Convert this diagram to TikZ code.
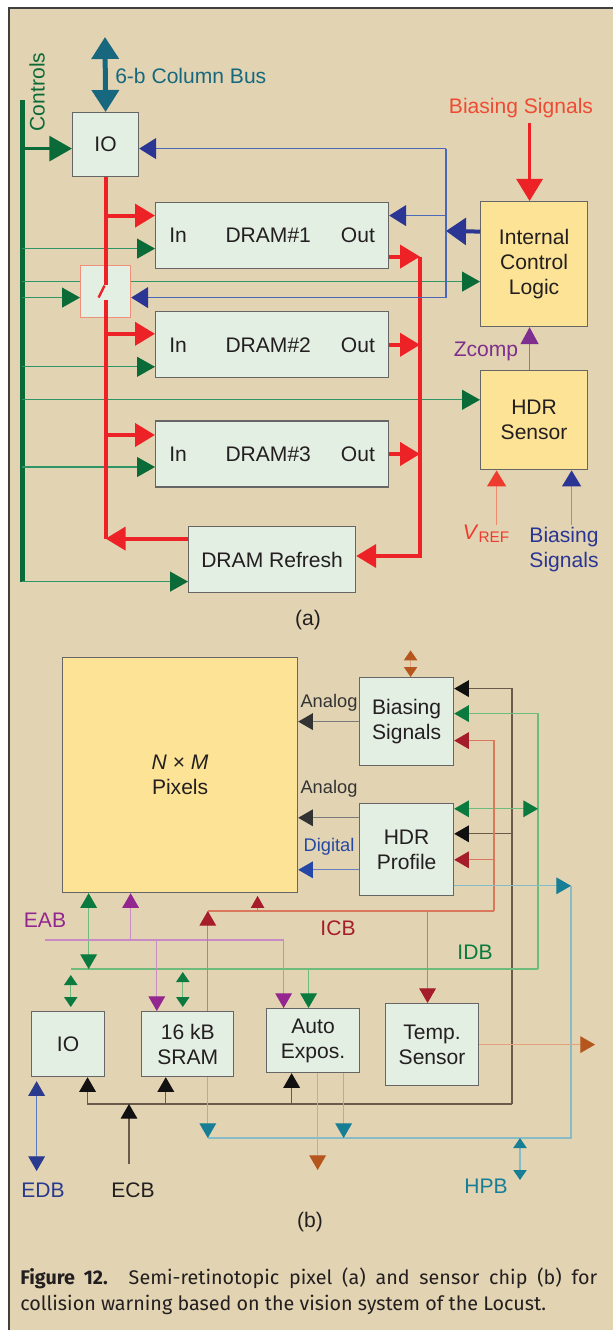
\documentclass[tikz,border=0pt]{standalone}
\usepackage{fontspec}
\setmainfont{Liberation Sans}
\newfontfamily\capfont{Fira Sans}
\usetikzlibrary{arrows.meta, positioning}

\definecolor{bgtan}{HTML}{E2D4B2}
\definecolor{mint}{HTML}{E4EFE4}
\definecolor{ylw}{HTML}{FDE395}
\definecolor{ink}{HTML}{231F20}
\definecolor{bred}{HTML}{EC2227}
\definecolor{swred}{HTML}{F0907A}
\definecolor{dgreen}{HTML}{0B6B38}
\definecolor{mgreen}{HTML}{2F9466}
\definecolor{dblue}{HTML}{2B3593}
\definecolor{mblue}{HTML}{4A67B8}
\definecolor{cteal}{HTML}{17687E}
\definecolor{bsred}{HTML}{EE4B34}
\definecolor{zpurp}{HTML}{7E2E8E}
\definecolor{zpurpl}{HTML}{A66BAE}
\definecolor{vred}{HTML}{EE3B2F}
\definecolor{vredl}{HTML}{F08A6E}
\definecolor{eab}{HTML}{94268F}
\definecolor{eabl}{HTML}{C98BC5}
\definecolor{icb}{HTML}{A51D2A}
\definecolor{icbl}{HTML}{D9785C}
\definecolor{idb}{HTML}{0B7A3E}
\definecolor{idbl}{HTML}{6DBB7D}
\definecolor{hpb}{HTML}{177E96}
\definecolor{hpbl}{HTML}{86BCC6}
\definecolor{ecb}{HTML}{111111}
\definecolor{ecbl}{HTML}{6B5A4A}
\definecolor{org}{HTML}{B5561E}
\definecolor{orgl}{HTML}{E3A27E}
\definecolor{edb}{HTML}{2A3A8E}
\definecolor{edbl}{HTML}{5A79BE}
\definecolor{anl}{HTML}{333333}
\definecolor{anll}{HTML}{7A7A7A}
\definecolor{dig}{HTML}{2547A6}

\begin{document}
\begin{tikzpicture}[
  x=0.75pt, y=-0.75pt,
  font=\fontsize{15.8}{18.75}\selectfont, text=ink,
  box/.style={rectangle, draw=black!60, fill=mint, line width=0.9pt, anchor=north west, inner sep=0pt, align=center},
  core/.style={box, fill=ylw},
  lbl/.style={inner sep=0pt, align=center},
  small/.style={lbl, font=\fontsize{13.7}{16}\selectfont},
  bus/.style={draw=#1, line width=0.85pt},
  arb/.style={-{Triangle[length=11pt,width=12.5pt,color=#1]}},
  dbb/.style={{Triangle[length=11pt,width=12.5pt,color=#1]}-{Triangle[length=11pt,width=12.5pt,color=#1]}},
  dbs/.style={{Triangle[length=7.5pt,width=10pt,color=#1]}-{Triangle[length=7.5pt,width=10pt,color=#1]}},
  rbus/.style={draw=bred, line width=3pt},
  rarr/.style={rbus, -{Triangle[length=15pt,width=17.25pt]}},
  garr/.style={draw=mgreen, line width=0.9pt, -{Triangle[length=13.5pt,width=15pt,color=dgreen]}},
  barr/.style={draw=mblue, line width=0.9pt, -{Triangle[length=12.75pt,width=15.75pt,color=dblue]}}
]
\useasboundingbox (0,0) rectangle (612,1330);
\fill[white] (0,0) rectangle (612,1330);
\filldraw[fill=bgtan, draw=black!75, line width=0.9pt] (9,8) rectangle (616,1336);

% ---- (a) semi-retinotopic pixel
\node[box, minimum width=49.5pt, minimum height=48pt] (io) at (72,112) {IO};
\node[box, minimum width=174.75pt, minimum height=49.5pt] (d1) at (155,202) {In\hspace{29pt}DRAM\#1\hspace{22.5pt}Out};
\node[box, minimum width=174.75pt, minimum height=49.5pt, below=31.5pt of d1] (d2) {In\hspace{29pt}DRAM\#2\hspace{22.5pt}Out};
\node[box, minimum width=174.75pt, minimum height=49.5pt, below=31.5pt of d2] (d3) {In\hspace{29pt}DRAM\#3\hspace{22.5pt}Out};
\node[box, minimum width=125.25pt, minimum height=49.5pt] (rf) at (188,526) {DRAM Refresh};
\node[box, draw=swred, minimum width=37.5pt, minimum height=39pt] (sw) at (80,265) {};
\node[core, minimum width=80.25pt, minimum height=93.75pt] (icl) at (480,201) {Internal\\Control\\Logic};
\node[core, minimum width=80.25pt, minimum height=74.25pt, below=32.25pt of icl] (hdr) {HDR\\Sensor};

\node[lbl, text=cteal, anchor=west] (cbl) at (115,76) {6-b Column Bus};
\node[lbl, text=bsred] (bias) at (521,108) {Biasing Signals};
\node[lbl, text=dgreen, rotate=90] (ctl) at (37,92) {Controls};
\node[lbl, text=zpurp] (zc) at (486,351) {Zcomp};
\node[lbl, text=vred] (vref) at (486,534) {\textit{V}{\fontsize{11.5}{12}\selectfont\raisebox{-2.6pt}{REF}}};
\node[lbl, text=dblue] (bsig) at (564,550) {Biasing\\Signals};
\node[lbl] (capa) at (308,620) {(a)};

\coordinate (cbtop) at (105,37);
\coordinate (ctop) at (22,100);
\coordinate (cbot) at (22,582);
\coordinate (ioi) at ([yshift=-3pt]io.west);
\coordinate (ioe) at ([yshift=-3pt]io.east);
\coordinate (d1r) at ([yshift=15pt]d1.west);
\coordinate (d2r) at ([yshift=8.25pt]d2.west);
\coordinate (d3r) at ([yshift=14.25pt]d3.west);
\coordinate (d1g) at ([yshift=-9.75pt]d1.west);
\coordinate (d2g) at ([yshift=-16.5pt]d2.west);
\coordinate (d3g) at ([yshift=-9.75pt]d3.west);
\coordinate (rfg) at ([yshift=-16.5pt]rf.west);
\coordinate (rfr) at ([yshift=15.75pt]rf.west);
\coordinate (d1o) at ([yshift=-15.75pt]d1.east);
\coordinate (d2o) at (d2.east);
\coordinate (d3o) at (d3.east);
\coordinate (obus) at (420,556);
\coordinate (swa) at ([yshift=5.25pt]sw.center);
\coordinate (swb) at ([yshift=-6pt]sw.center);
\coordinate (swg) at ([yshift=-4.5pt]sw.west);
\coordinate (swe) at ([yshift=-4.5pt]sw.east);
\coordinate (iclg) at ([yshift=-13.125pt]icl.west);
\coordinate (iclb) at ([yshift=24.375pt]icl.west);
\coordinate (bv) at (446,231);
\coordinate (d1b) at ([yshift=15pt]d1.east);
\coordinate (hdrg) at ([yshift=15.375pt]hdr.west);
\coordinate (bst) at ([yshift=-4pt]bias.south);
\coordinate (iclt) at ([xshift=-3.4pt]icl.north);
\coordinate (iclz) at ([xshift=-3.4pt]icl.south);
\coordinate (hdrz) at ([xshift=-3.4pt]hdr.north);
\coordinate (hdrv) at ([xshift=-28.125pt]hdr.south);
\coordinate (hdrb) at ([xshift=28.125pt]hdr.south);

% column bus and controls
\draw[draw=cteal, line width=3.75pt, {Triangle[length=16.5pt,width=20pt]}-{Triangle[length=16.5pt,width=20pt]}] (cbtop) -- (io.north);
\draw[dgreen, line width=3.75pt] (ctop) -- (cbot);
\draw[dgreen, line width=2.25pt, -{Triangle[length=17pt,width=18.75pt]}] (ctop |- ioi) -- (ioi);
\draw[garr] (ctop |- d1g) -- (d1g);
\draw[draw=mgreen, line width=0.9pt] (ctop |- iclg) -- (sw.west |- iclg);
\draw[garr] (sw.east |- iclg) -- (iclg);
\draw[garr] (ctop |- swg) -- (swg);
\draw[garr] (ctop |- d2g) -- (d2g);
\draw[garr] (ctop |- hdrg) -- (hdrg);
\draw[garr] (ctop |- d3g) -- (d3g);
\draw[garr] (cbot |- rfg) -- (rfg);

% data bus through the switch
\draw[rbus] (io.south) -- (swa);
\draw[rbus] (swb) -- (io.south |- rfr);
\draw[draw=bred, line width=1.8pt] ([xshift=-5.25pt,yshift=-4.5pt]sw.center) -- ([xshift=-0.75pt,yshift=4.5pt]sw.center);
\draw[rarr] (io.south |- d1r) -- (d1r);
\draw[rarr] (io.south |- d2r) -- (d2r);
\draw[rarr] (io.south |- d3r) -- (d3r);
\draw[rarr] (rfr) -- (io.south |- rfr);
\draw[rarr] (d1o) -- (d1o -| obus);
\draw[rarr] (d2o) -- (d2o -| obus);
\draw[rarr] (d3o) -- (d3o -| obus);
\draw[rarr] (d1o -| obus) -- (obus) -- (obus -| rf.east);

% internal control
\draw[draw=dblue, line width=3pt, -{Triangle[length=15pt,width=20pt]}] (iclb) -- (bv);
\draw[draw=mblue, line width=0.9pt] (bv |- ioe) -- (bv |- swe);
\draw[barr] (bv |- ioe) -- (ioe);
\draw[barr] (bv |- d1b) -- (d1b);
\draw[barr] (bv |- swe) -- (swe);
\draw[draw=bred, line width=2.25pt, -{Triangle[length=16.5pt,width=19.5pt]}] (iclt |- bst) -- (iclt);
\draw[draw=zpurpl, line width=1.1pt, -{Triangle[length=12.75pt,width=13.5pt,color=zpurp]}] (hdrz) -- (iclz);
\draw[draw=vredl, line width=1.1pt, -{Triangle[length=12pt,width=14.25pt,color=vred]}] (hdrv |- vref.north) -- (hdrv);
\draw[draw=mblue!70, line width=1.1pt, -{Triangle[length=12pt,width=14.25pt,color=dblue]}] (hdrb |- vref.north) -- (hdrb);

% ---- (b) sensor chip
\node[core, minimum width=176.25pt, minimum height=176.25pt] (pix) at (62,657) {\textit{N} × \textit{M}\\Pixels};
\node[box, minimum width=70.5pt, minimum height=66pt] (bsg) at (359,677) {Biasing\\Signals};
\node[box, minimum width=70.5pt, minimum height=69pt, below=27.75pt of bsg] (hdp) {HDR\\Profile};
\node[box, minimum width=54.75pt, minimum height=48.75pt] (iob) at (31,1011) {IO};
\node[box, minimum width=69pt, minimum height=48.75pt, right=27pt of iob] (sram) {16 kB\\SRAM};
\node[box, minimum width=69.75pt, minimum height=48pt] (aexp) at (266,1008) {Auto\\Expos.};
\node[box, minimum width=69.75pt, minimum height=61.5pt] (tmp) at (385,1003) {Temp.\\Sensor};

\node[small, text=anl] (an1) at (329,703) {Analog};
\node[small, text=anl] (an2) at (329,789) {Analog};
\node[small, text=dig] (dg) at (329,847) {Digital};
\node[lbl, text=eab] (eabt) at (45,920) {EAB};
\node[lbl, text=icb] (icbt) at (338,928) {ICB};
\node[lbl, text=idb] (idbt) at (475,952) {IDB};
\node[lbl, text=hpb] (hpbt) at (486,1186) {HPB};
\node[lbl, text=edb] (edbt) at (43,1190) {EDB};
\node[lbl] (ecbt) at (133,1190) {ECB};
\node[lbl] (capb) at (310,1222) {(b)};

\coordinate (bso) at ([xshift=3pt]bsg.north);
\coordinate (hpa) at ([yshift=24pt]hdp.west);
\coordinate (hpd) at ([yshift=-15pt]hdp.west);
\coordinate (ecbR) at (512,1104);
\coordinate (ecbI) at (129,1164);
\coordinate (bse) at ([yshift=24.75pt]bsg.east);
\coordinate (hpe) at ([yshift=12pt]hdp.east);
\coordinate (ioe2) at ([xshift=14.6pt]iob.south);
\coordinate (sre) at ([xshift=-16.5pt]sram.south);
\coordinate (aee) at ([xshift=-16.1pt]aexp.south);
\coordinate (idbR) at (538,969);
\coordinate (idbL) at (71,969);
\coordinate (bsi) at ([yshift=6pt]bsg.east);
\coordinate (hpi) at ([yshift=30.75pt]hdp.east);
\coordinate (aei) at ([xshift=-3.4pt]aexp.north);
\coordinate (pxi) at ([xshift=-68.6pt]pix.south);
\coordinate (ioi2) at ([xshift=2pt]iob.north);
\coordinate (sri) at ([xshift=-3.75pt]sram.north);
\coordinate (eabL) at (45,940);
\coordinate (pxe) at ([xshift=-37.1pt]pix.south);
\coordinate (sra) at ([xshift=-23.25pt]sram.north);
\coordinate (aea) at ([xshift=-22.1pt]aexp.north);
\coordinate (icbR) at (494,911);
\coordinate (bsc) at ([yshift=-14.25pt]bsg.east);
\coordinate (hpc) at ([yshift=-7.5pt]hdp.east);
\coordinate (src) at ([xshift=15pt]sram.north);
\coordinate (pxc) at ([xshift=58.1pt]pix.south);
\coordinate (tmc) at ([xshift=-3.4pt]tmp.north);
\coordinate (hpbR) at (571,1138);
\coordinate (hpo) at ([yshift=-27pt]hdp.east);
\coordinate (srh) at ([xshift=15pt]sram.south);
\coordinate (aeh) at ([xshift=22.9pt]aexp.south);
\coordinate (hpbB) at (520,1180);
\coordinate (orgR) at (595,1045);
\coordinate (aeo) at ([xshift=3.4pt]aexp.south);
\coordinate (orgB) at (317,1170);
\coordinate (edo) at ([xshift=-23.6pt]iob.south);
\coordinate (edbB) at (36,1171);

% analog / digital to the array
\draw[bus=orgl, dbs=org] ([yshift=20pt]bso) -- (bso);
\draw[bus=anll, arb=anl] (bsg.west) -- (bsg.west -| pix.east);
\draw[bus=anll, arb=anl] (hpa) -- (hpa -| pix.east);
\draw[bus=dig!70, arb=dig] (hpd) -- (hpd -| pix.east);
% ECB
\draw[bus=ecbl, arb=ecb] (ecbR) |- (bse);
\draw[bus=ecbl, arb=ecb] (ecbR |- hpe) -- (hpe);
\draw[bus=ecbl, arb=ecb] (ecbR) -| (ioe2);
\draw[bus=ecbl, arb=ecb] (sre |- ecbR) -- (sre);
\draw[bus=ecbl, arb=ecb] (aee |- ecbR) -- (aee);
\draw[bus=ecbl, arb=ecb] (ecbI) -- (ecbI |- ecbR);
% IDB
\draw[bus=idbl, arb=idb] (idbR) |- (bsi);
\draw[bus=idbl, dbb=idb] (hpi) -- (hpi -| idbR);
\draw[bus=idbl] (idbR) -- (idbL);
\draw[bus=idbl, arb=idb] (aei |- idbR) -- (aei);
\draw[bus=idbl, dbb=idb] (pxi) -- (pxi |- idbR);
\draw[bus=idbl, dbs=idb, shorten >=3pt] ([yshift=27pt]ioi2) -- (ioi2);
\draw[bus=idbl, dbs=idb, shorten >=3pt] ([yshift=29.25pt]sri) -- (sri);
% EAB
\draw[bus=eabl, arb=eab] (eabL) -| (aea);
\draw[bus=eabl, arb=eab] (pxe |- eabL) -- (pxe);
\draw[bus=eabl, arb=eab] (sra |- eabL) -- (sra);
% ICB
\draw[bus=icbl, arb=icb] (icbR) |- (bsc);
\draw[bus=icbl, arb=icb] (icbR |- hpc) -- (hpc);
\draw[bus=icbl] (icbR) -- (src |- icbR);
\draw[bus=icbl, arb=icb] (src) -- (src |- icbR);
\draw[bus=icbl, -{Triangle[length=9pt,width=10pt,color=icb]}, shorten >=2pt] (pxc |- icbR) -- (pxc);
\draw[bus=icbl, arb=icb] (tmc |- icbR) -- (tmc);
% HPB
\draw[bus=hpbl, arb=hpb] (hpo) -- (hpo -| hpbR);
\draw[bus=hpbl] (hpo -| hpbR) -- (hpbR) -- (srh |- hpbR);
\draw[bus=hpbl, arb=hpb] (srh) -- (srh |- hpbR);
\draw[bus=hpbl, arb=hpb] (aeh) -- (aeh |- hpbR);
\draw[bus=hpbl, dbs=hpb] (hpbB |- hpbR) -- (hpbB);
% outputs
\draw[bus=orgl, arb=org] (tmp.east) -- (tmp.east -| orgR);
\draw[bus=orgl, arb=org] (aeo) -- (aeo |- orgB);
\draw[bus=edbl, dbb=edb, shorten <=3pt] (edo) -- (edo |- edbB);

% caption
\node[anchor=north west, inner sep=0pt, text width=432.75pt, align=justify, font=\capfont\fontsize{14.8}{19.5}\selectfont] (fig) at (20,1268) {\textbf{Figure 12.} Semi-retinotopic pixel (a) and sensor chip (b) for\linebreak collision warning based on the vision system of the Locust.};
\end{tikzpicture}
\end{document}
